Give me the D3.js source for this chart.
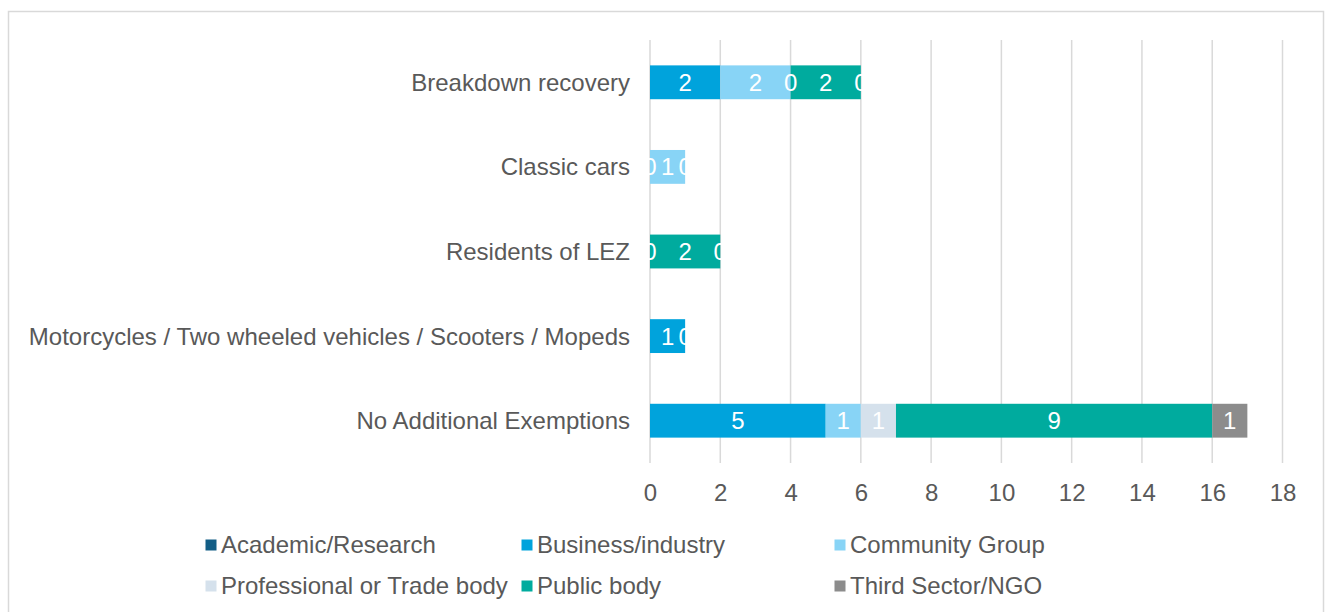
<!DOCTYPE html>
<html>
<head>
<meta charset="utf-8">
<script src="https://cdn.jsdelivr.net/npm/d3@7"></script>
<style>
    body { margin: 0; background: #fff; }
    svg text { font-family: "Liberation Sans", Arial, sans-serif; }
</style>
</head>
<body>
<div id="chart"></div>
<script>
// categories, top to bottom
const categories = [
    'Breakdown recovery',
    'Classic cars',
    'Residents of LEZ',
    'Motorcycles / Two wheeled vehicles / Scooters / Mopeds',
    'No Additional Exemptions'
];

const seriesNames = [
    'Academic/Research',
    'Business/industry',
    'Community Group',
    'Professional or Trade body',
    'Public body',
    'Third Sector/NGO'
];

const seriesColors = ['#135e86', '#00a3dc', '#88d4f6', '#d5e1ec', '#00ab9e', '#8c8c8c'];

// null = no value (no label drawn)
const academic     = [null, null, null, null, null];
const business     = [2, 0, null, 1, 5];
const community    = [2, 1, null, 0, 1];
const professional = [0, 0, 0, null, 1];
const publicBody   = [2, null, 2, null, 9];
const thirdSector  = [0, null, 0, null, 1];

const xTicks = [0, 2, 4, 6, 8, 10, 12, 14, 16, 18];

const seriesValues = [academic, business, community, professional, publicBody, thirdSector];

const width = 1325, height = 612;
const plot = { left: 650, right: 1282.5, top: 40, bottom: 463 };
const fontSize = '24px';

const svg = d3.select('#chart').append('svg')
    .attr('width', width)
    .attr('height', height);

svg.append('rect')
    .attr('x', 8.5).attr('y', 11.5)
    .attr('width', 1315).attr('height', 640)
    .attr('fill', '#fff')
    .attr('stroke', '#d9d9d9')
    .attr('stroke-width', 1.5);

const x = d3.scaleLinear().domain([0, 18]).range([plot.left, plot.right]);
const y = d3.scaleBand().domain(categories).range([plot.top, plot.bottom])
    .paddingInner(0.6).paddingOuter(0.3);

// gridlines
svg.append('g')
    .selectAll('line')
    .data(xTicks)
    .join('line')
    .attr('x1', d => x(d)).attr('x2', d => x(d))
    .attr('y1', plot.top).attr('y2', plot.bottom)
    .attr('stroke', '#d9d9d9')
    .attr('stroke-width', 1.5);

// x axis labels
const xAxis = svg.append('g')
    .attr('transform', `translate(0, ${plot.bottom})`)
    .call(d3.axisBottom(x).tickValues(xTicks).tickSize(0).tickPadding(21));
xAxis.select('.domain').remove();
xAxis.selectAll('text')
    .attr('fill', '#595959')
    .style('font-size', fontSize);

// category labels
const yAxis = svg.append('g')
    .attr('transform', `translate(${plot.left}, 0)`)
    .call(d3.axisLeft(y).tickSize(0).tickPadding(20));
yAxis.select('.domain').remove();
yAxis.selectAll('text')
    .attr('fill', '#595959')
    .attr('dy', '0.35em')
    .style('font-size', fontSize);

// stacked segments
const segments = [];
categories.forEach((cat, ci) => {
    let acc = 0;
    seriesValues.forEach((vals, si) => {
        const v = vals[ci];
        if (v === null) return;
        segments.push({ cat, si, v, x0: acc, x1: acc + v });
        acc += v;
    });
});

svg.append('g')
    .selectAll('rect')
    .data(segments.filter(d => d.v > 0))
    .join('rect')
    .attr('x', d => x(d.x0))
    .attr('y', d => y(d.cat))
    .attr('width', d => x(d.x1) - x(d.x0))
    .attr('height', y.bandwidth())
    .attr('fill', d => seriesColors[d.si]);

svg.append('g')
    .selectAll('text')
    .data(segments)
    .join('text')
    .attr('x', d => x((d.x0 + d.x1) / 2))
    .attr('y', d => y(d.cat) + y.bandwidth() / 2)
    .attr('dy', '0.35em')
    .attr('text-anchor', 'middle')
    .attr('fill', '#fff')
    .style('font-size', fontSize)
    .text(d => d.v);

// legend
const legendCols = [211, 527, 840];
const legendRows = [545, 586];
const legend = svg.append('g')
    .selectAll('g')
    .data(seriesNames)
    .join('g')
    .attr('transform', (d, i) => `translate(${legendCols[i % 3]}, ${legendRows[Math.floor(i / 3)]})`);

legend.append('rect')
    .attr('x', -5.5).attr('y', -5.5)
    .attr('width', 11).attr('height', 11)
    .attr('fill', (d, i) => seriesColors[i]);

legend.append('text')
    .attr('x', 10)
    .attr('dy', '0.35em')
    .attr('fill', '#595959')
    .style('font-size', fontSize)
    .text(d => d);
</script>
</body>
</html>
